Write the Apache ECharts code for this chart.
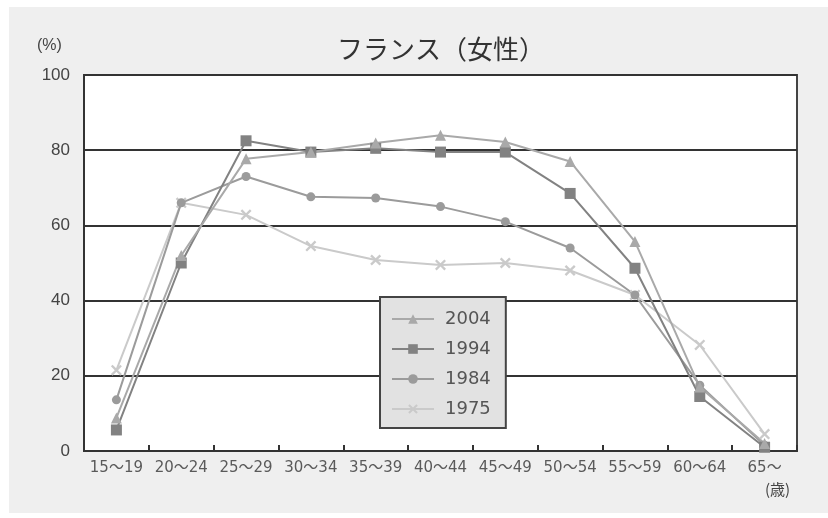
<!DOCTYPE html>
<html>
<head>
<meta charset="utf-8">
<script src="https://cdn.jsdelivr.net/npm/echarts@6/dist/echarts.min.js"></script>
<style>
  html, body { margin: 0; padding: 0; background: #ffffff; }
  #chart { width: 828px; height: 518px; }
</style>
</head>
<body>
<div id="chart"></div>
<script>
// Female labour force participation by age group, France
const ageGroups = ['15〜19', '20〜24', '25〜29', '30〜34', '35〜39', '40〜44', '45〜49', '50〜54', '55〜59', '60〜64', '65〜'];
const years = ['2004', '1994', '1984', '1975'];
const rate2004 = [8.8, 52, 77.7, 79.5, 81.9, 84, 82.2, 77, 55.7, 17, 2];
const rate1994 = [5.6, 50, 82.5, 79.5, 80.5, 79.5, 79.5, 68.5, 48.6, 14.5, 1];
const rate1984 = [13.6, 66, 73, 67.6, 67.3, 65, 61, 54, 41.5, 17.5, 1.5];
const rate1975 = [21.5, 66, 62.8, 54.5, 50.8, 49.5, 50, 48, 41.5, 28.2, 4.5];
const yTicks = [0, 20, 40, 60, 80, 100];

const crossPath = 'path://M0,1.5L1.5,0L5,3.5L8.5,0L10,1.5L6.5,5L10,8.5L8.5,10L5,6.5L1.5,10L0,8.5L3.5,5Z';

const styles = {
  '2004': { color: '#a9a9a9', symbol: 'triangle', size: 11 },
  '1994': { color: '#828282', symbol: 'rect', size: 11 },
  '1984': { color: '#9b9b9b', symbol: 'circle', size: 9 },
  '1975': { color: '#cacaca', symbol: crossPath, size: 11 }
};
const values = { '2004': rate2004, '1994': rate1994, '1984': rate1984, '1975': rate1975 };

const chart = echarts.init(document.getElementById('chart'), null, { renderer: 'canvas' });

chart.setOption({
  animation: false,
  backgroundColor: 'transparent',
  textStyle: { fontFamily: 'Liberation Sans, Noto Sans CJK JP, sans-serif' },
  graphic: [
    { type: 'rect', z: -10, shape: { x: 9, y: 7, width: 819, height: 506 }, style: { fill: '#efefef' } },
    { type: 'text', x: 441, y: 49, style: { text: 'フランス（女性）', fill: '#333', align: 'center', verticalAlign: 'middle', font: '26px "Noto Sans CJK JP", sans-serif' } },
    { type: 'text', left: 37, top: 38, style: { text: '(%)', fill: '#444', font: '16px "Liberation Sans", sans-serif' } },
    { type: 'text', left: 765, top: 482, style: { text: '(歳)', fill: '#444', font: '15px "Noto Sans CJK JP", sans-serif' } }
  ],
  grid: {
    left: 84, right: 31, top: 75, bottom: 67,
    show: true, backgroundColor: '#ffffff', borderColor: '#444', borderWidth: 2
  },
  legend: {
    data: years,
    orient: 'vertical',
    left: 380, top: 297,
    backgroundColor: '#e2e2e2',
    borderColor: '#444', borderWidth: 2, borderRadius: 0,
    padding: [13, 15, 10, 11],
    itemWidth: 42, itemHeight: 12, itemGap: 12,
    textStyle: { fontSize: 18, color: '#555', fontFamily: 'DejaVu Sans, sans-serif', padding: [0, 0, 0, 6] }
  },
  xAxis: {
    type: 'category',
    data: ageGroups,
    boundaryGap: true,
    axisLine: { lineStyle: { color: '#333', width: 2 } },
    axisTick: { show: true, inside: true, length: 6, lineStyle: { color: '#333', width: 2 } },
    axisLabel: { color: '#5a5a5a', fontSize: 15, margin: 10, interval: 0, fontFamily: 'DejaVu Sans, Noto Sans CJK JP, sans-serif' },
    splitLine: { show: false }
  },
  yAxis: {
    type: 'value',
    min: yTicks[0], max: yTicks[yTicks.length - 1], interval: 20,
    axisLine: { show: true, lineStyle: { color: '#333', width: 2 } },
    axisTick: { show: false },
    axisLabel: { color: '#444', fontSize: 17, margin: 14, fontFamily: 'Liberation Sans, sans-serif' },
    splitLine: { show: true, lineStyle: { color: '#333', width: 2 } }
  },
  series: years.map(y => ({
    name: y,
    type: 'line',
    data: values[y],
    symbol: styles[y].symbol,
    symbolSize: styles[y].size,
    showAllSymbol: true,
    lineStyle: { color: styles[y].color, width: 2 },
    itemStyle: { color: styles[y].color },
    z: 3
  })).reverse()
});
</script>
</body>
</html>
